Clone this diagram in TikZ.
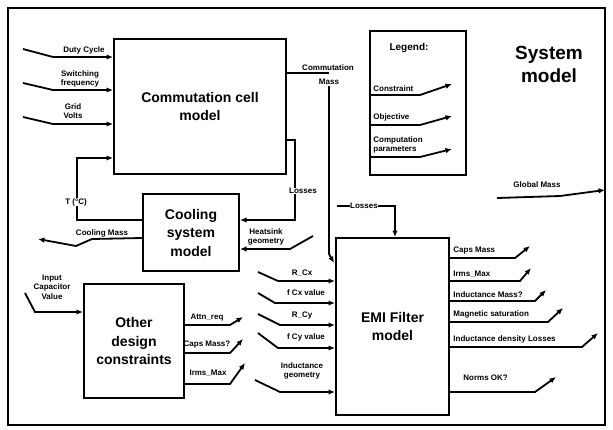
\documentclass[tikz,border=0pt]{standalone}
\usepackage{fontspec}
\setmainfont{Liberation Sans}
\usetikzlibrary{arrows.meta,calc}
\begin{document}
\begin{tikzpicture}[x=1pt,y=-1pt, line width=1.8pt,
 box/.style={draw, line width=2pt, inner sep=0pt, align=center, anchor=north west, font=\fontsize{14}{18.5}\selectfont\bfseries},
 lab/.style={font=\fontsize{8}{9.5}\selectfont\bfseries, inner sep=0.5pt, align=center},
 wlab/.style={lab, fill=white},
 arr/.style={-{Latex[length=6.5pt,width=5.5pt]}},
 ]
\useasboundingbox (0,0) rectangle (613,429);
\draw[line width=1.8pt] (8,8) rectangle (605,425);

% boxes
\node[box, minimum width=172, minimum height=135] (cc) at (113,38) {Commutation cell\\model};
\node[box, minimum width=96, minimum height=77] (cool) at (142,193) {Cooling\\system\\model};
\node[box, minimum width=100, minimum height=114] (oth) at (83,283) {Other\\design\\constraints};
\node[box, minimum width=113, minimum height=177] (emi) at (335,237) {EMI Filter\\model};
\node[box, minimum width=96, minimum height=144] (leg) at (369,30) {};
\node[lab, font=\fontsize{10}{12}\selectfont\bfseries] (legt) at (409,48) {Legend:};
\node[align=center, font=\fontsize{19}{23}\selectfont\bfseries] (sys) at (549,64) {System\\model};

% inputs to commutation cell
\coordinate (a1) at (23,49); \coordinate (b1) at (53,57);
\coordinate (a2) at (23,83); \coordinate (b2) at (53,90);
\coordinate (a3) at (23,117); \coordinate (b3) at (53,124);
\draw[arr] (a1) -- (b1) -- (b1 -| cc.west);
\draw[arr] (a2) -- (b2) -- (b2 -| cc.west);
\draw[arr] (a3) -- (b3) -- (b3 -| cc.west);
\node[lab] (l1) at (84,50) {Duty Cycle};
\node[lab] (l2) at (80,79) {Switching\\frequency};
\node[lab] (l3) at (73,111) {Grid\\Volts};

% commutation mass
\coordinate (cm1) at (329,73); \coordinate (cm2) at (329,254); \coordinate (cm3) at (334,263);
\draw (cc.east |- cm1) -- (cm1);
\node[lab] (cml) at (328,68) {Commutation};
\node[wlab] (cml2) at (329,82) {Mass};
\draw[arr] (cml2.south) -- (cm2) -- (cm3);

% losses to cooling
\coordinate (ls1) at (295,140); \coordinate (ls2) at (295,220);
\draw[arr] (cc.east |- ls1) -- (ls1) -- (ls2) -- (ls2 -| cool.east);
\node[wlab] (lsl) at (303,191) {Losses};

% T loop
\coordinate (t1) at (77,220); \coordinate (t2) at (77,158);
\draw[arr] (cool.west |- t1) -- (t1) -- (t2) -- (t2 -| cc.west);
\node[wlab] (tl) at (76,202) {T (°C)};

% cooling mass
\coordinate (cmA) at (92,239);
\coordinate (cmB) at (76,246);
\coordinate (cmC) at (38,239);
\draw[arr] (cool.west |- 0,238) -- (cmA) -- (cmB) -- (cmC);
\node[lab] (cmlab) at (102,233) {Cooling Mass};

% heatsink geometry
\coordinate (h1) at (313,236); \coordinate (h2) at (290,249);
\draw[arr] (h1) -- (h2) -- (h2 -| cool.east);
\node[lab] (hl) at (266,237) {Heatsink\\geometry};

% losses to EMI
\coordinate (le1) at (337,206); \coordinate (le2) at (395,206);
\draw[arr] (le1) -- (le2) -- (le2 |- emi.north);
\node[wlab] (lel) at (364,206) {Losses};

% legend items
\coordinate (g1) at (420,95); \coordinate (g1e) at (452,84);
\coordinate (g2) at (420,125); \coordinate (g2e) at (452,116);
\coordinate (g3) at (420,157); \coordinate (g3e) at (452,149);
\draw[arr] (leg.west |- g1) -- (g1) -- (g1e);
\draw[arr] (leg.west |- g2) -- (g2) -- (g2e);
\draw[arr] (leg.west |- g3) -- (g3) -- (g3e);
\node[lab, anchor=south west] (gl1) at (372,93) {Constraint};
\node[lab, anchor=south west] (gl2) at (372,123) {Objective};
\node[lab, anchor=south west, align=left] (gl3) at (372,155) {Computation\\parameters};

% global mass
\coordinate (gm1) at (497,198); \coordinate (gm2) at (560,196); \coordinate (gm3) at (605,190);
\draw[arr] (gm1) -- (gm2) -- (gm3);
\node[lab] (gml) at (537,185) {Global Mass};

% input capacitor value
\coordinate (ic1) at (25,293); \coordinate (ic2) at (35,312);
\draw[arr] (ic1) -- (ic2) -- (ic2 -| oth.west);
\node[lab] (icl) at (52,287) {Input\\Capacitor\\Value};

% other outputs
\coordinate (o1) at (230,325); \coordinate (o1e) at (243,317);
\coordinate (o2) at (230,353); \coordinate (o2e) at (243,339);
\coordinate (o3) at (230,384); \coordinate (o3e) at (245,363);
\draw[arr] (oth.east |- o1) -- (o1) -- (o1e);
\draw[arr] (oth.east |- o2) -- (o2) -- (o2e);
\draw[arr] (oth.east |- o3) -- (o3) -- (o3e);
\node[lab] (ol1) at (207,318) {Attn\_req};
\node[lab] (ol2) at (207,345) {Caps Mass?};
\node[lab] (ol3) at (208,373) {Irms\_Max};

% EMI inputs
\coordinate (e1s) at (258,272); \coordinate (e1b) at (278,281);
\coordinate (e2s) at (258,293); \coordinate (e2b) at (275,303);
\coordinate (e3s) at (258,314); \coordinate (e3b) at (280,325);
\coordinate (e4s) at (258,333); \coordinate (e4b) at (278,348);
\coordinate (e5s) at (255,380); \coordinate (e5b) at (280,392);
\draw[arr] (e1s) -- (e1b) -- (e1b -| emi.west);
\draw[arr] (e2s) -- (e2b) -- (e2b -| emi.west);
\draw[arr] (e3s) -- (e3b) -- (e3b -| emi.west);
\draw[arr] (e4s) -- (e4b) -- (e4b -| emi.west);
\draw[arr] (e5s) -- (e5b) -- (e5b -| emi.west);
\node[lab] (el1) at (302,273) {R\_Cx};
\node[lab] (el2) at (306,293) {f Cx value};
\node[lab] (el3) at (302,316) {R\_Cy};
\node[lab] (el4) at (306,337) {f Cy value};
\node[lab] (el5) at (302,371) {Inductance\\geometry};

% EMI outputs
\coordinate (f1) at (515,258); \coordinate (f1e) at (530,246);
\coordinate (f2) at (520,281); \coordinate (f2e) at (531,268);
\coordinate (f3) at (535,301); \coordinate (f3e) at (546,290);
\coordinate (f4) at (548,322); \coordinate (f4e) at (563,308);
\coordinate (f5) at (582,347); \coordinate (f5e) at (598,333);
\coordinate (f6) at (535,392); \coordinate (f6e) at (556,377);
\draw[arr] (emi.east |- f1) -- (f1) -- (f1e);
\draw[arr] (emi.east |- f2) -- (f2) -- (f2e);
\draw[arr] (emi.east |- f3) -- (f3) -- (f3e);
\draw[arr] (emi.east |- f4) -- (f4) -- (f4e);
\draw[arr] (emi.east |- f5) -- (f5) -- (f5e);
\draw[arr] (emi.east |- f6) -- (f6) -- (f6e);
\node[lab, anchor=south west] (fl1) at (452,256) {Caps Mass};
\node[lab, anchor=south west] (fl2) at (452,279) {Irms\_Max};
\node[lab, anchor=south west] (fl3) at (452,299) {Inductance Mass?};
\node[lab, anchor=south west] (fl4) at (452,320) {Magnetic saturation};
\node[lab, anchor=south west] (fl5) at (452,345) {Inductance density Losses};
\node[lab, anchor=south west] (fl6) at (462,382) {Norms OK?};
\end{tikzpicture}
\end{document}
